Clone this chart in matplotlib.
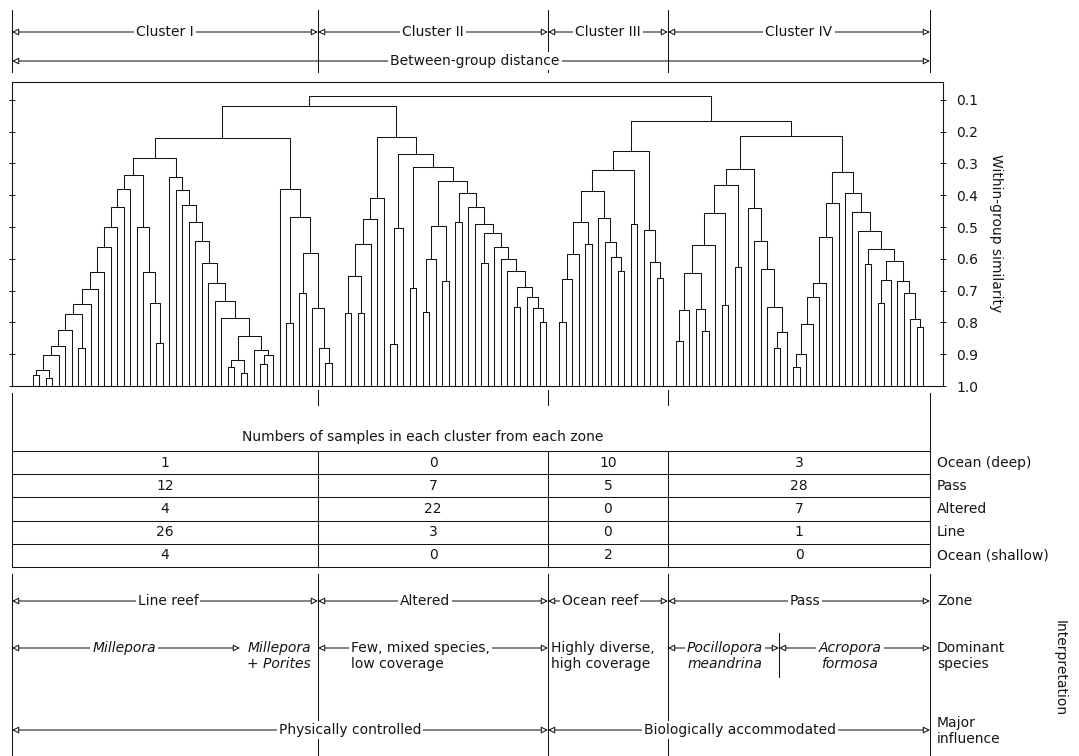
import numpy as np
import matplotlib.pyplot as plt

plt.rcParams['font.family'] = 'DejaVu Sans'

# ---- dendrogram ----
# node = (within-group similarity where the two branches join, left, right)
# 0 = a single sample
# Cluster I (47 samples)
n = (0.903, (0.95, (0.965, 0, 0), (0.975, 0, 0)), 0)
for h in [0.873, 0.824]:
    n = (h, n, 0)
n = (0.774, n, (0.879, 0, 0))
for h in [0.743, 0.696, 0.64, 0.563, 0.50, 0.437, 0.38]:
    n = (h, n, 0)
c1_a = n
c1_b = (0.50, 0, (0.642, 0, (0.74, 0, (0.866, 0, 0))))
n = (0.843, (0.919, (0.94, 0, 0), (0.96, 0, 0)), (0.887, 0, (0.903, (0.93, 0, 0), 0)))
for h in [0.787, 0.733, 0.675, 0.614, 0.545, 0.484, 0.432, 0.384, 0.343]:
    n = (h, 0, n)
c1_c = n
c1_d = (0.38, 0, (0.468, (0.803, 0, 0), (0.582, (0.706, 0, 0), (0.756, 0, (0.882, 0, (0.929, 0, 0))))))
cluster_I = (0.219, (0.284, (0.337, c1_a, c1_b), c1_c), c1_d)

# Cluster II (32 samples)
n = (0.72, 0, (0.756, 0, (0.798, 0, 0)))
n = (0.688, (0.751, 0, 0), n)
for h in [0.638, 0.602, 0.564]:
    n = (h, 0, n)
n = (0.518, (0.612, 0, 0), n)
for h in [0.489, 0.438]:
    n = (h, 0, n)
c2_d32 = (0.394, (0.485, 0, 0), n)
c2_d31 = (0.497, (0.60, (0.767, 0, 0), 0), (0.669, 0, 0))
c2_a = (0.408, (0.476, (0.555, (0.655, (0.772, 0, 0), (0.772, 0, 0)), 0), 0), 0)
c2_b = (0.27, (0.504, (0.867, 0, 0), 0), (0.312, (0.693, 0, 0), (0.355, c2_d31, c2_d32)))
cluster_II = (0.216, c2_a, c2_b)

# Cluster III (17 samples)
c3_a = (0.484, (0.586, (0.665, (0.80, 0, 0), 0), 0), (0.552, 0, 0))
c3_b = (0.473, 0, (0.546, 0, (0.594, 0, (0.638, 0, 0))))
c3_c = (0.508, 0, (0.61, 0, (0.66, 0, 0)))
cluster_III = (0.26, (0.32, (0.386, c3_a, c3_b), (0.49, 0, 0)), c3_c)

# Cluster IV (39 samples)
c4_a = (0.557, (0.644, (0.76, (0.86, 0, 0), 0), (0.757, 0, (0.827, 0, 0))), 0)
c4_a = (0.368, (0.455, c4_a, (0.744, 0, 0)), (0.625, 0, 0))
c4_b = (0.441, 0, (0.544, 0, (0.633, 0, (0.753, 0, (0.83, (0.88, 0, 0), 0)))))
c4_c = (0.426, (0.533, (0.675, (0.719, (0.806, (0.90, (0.94, 0, 0), 0), 0), 0), 0), 0), 0)
n = (0.671, 0, (0.709, 0, (0.788, 0, (0.815, 0, 0))))
n = (0.608, (0.667, (0.74, 0, 0), 0), n)
n = (0.568, (0.617, 0, 0), n)
c4_d = (0.393, 0, (0.454, 0, (0.512, 0, n)))
cluster_IV = (0.213, (0.317, c4_a, c4_b), (0.326, c4_c, c4_d))

merge_I_II = 0.119
merge_III_IV = 0.166
merge_root = 0.088

sim_ticks = [0.1, 0.2, 0.3, 0.4, 0.5, 0.6, 0.7, 0.8, 0.9, 1.0]

# ---- table ----
cluster_names = ['Cluster I', 'Cluster II', 'Cluster III', 'Cluster IV']
zones = ['Ocean (deep)', 'Pass', 'Altered', 'Line', 'Ocean (shallow)']
samples_I = [1, 12, 4, 26, 4]
samples_II = [0, 7, 22, 3, 0]
samples_III = [10, 5, 0, 0, 2]
samples_IV = [3, 28, 7, 1, 0]

zone_names = ['Line reef', 'Altered', 'Ocean reef', 'Pass']

LC = '#151515'
LW = 0.75

fig = plt.figure(figsize=(10.79, 7.56), dpi=100)
ov = fig.add_axes([0, 0, 1, 1])
ov.set_xlim(0, 1079)
ov.set_ylim(756, 0)
ov.axis('off')

ax = fig.add_axes([12/1079, 1 - 386/756, 931/1079, 304/756])

pos = [0.0]
def draw(node):
    if not isinstance(node, tuple):
        x = pos[0]
        pos[0] += 1
        return x, 1.0
    h, a, b = node
    xa, ha = draw(a)
    xb, hb = draw(b)
    ax.plot([xa, xa, xb, xb], [ha, h, h, hb], color=LC, lw=LW)
    return (xa + xb) / 2, h

def join(a, b, h):
    ax.plot([a[0], a[0], b[0], b[0]], [a[1], h, h, b[1]], color=LC, lw=LW)
    return (a[0] + b[0]) / 2, h

tops = []
for i, c in enumerate([cluster_I, cluster_II, cluster_III, cluster_IV]):
    if i > 0:
        pos[0] += 1.0   # little space between clusters
    tops.append(draw(c))
left = join(tops[0], tops[1], merge_I_II)
right = join(tops[2], tops[3], merge_III_IV)
join(left, right, merge_root)

last = pos[0] - 1
s = 890 / last
ax.set_xlim(-21 / s, last + 20 / s)
ax.set_ylim(1.0, 0.044)
ax.set_xticks([])
ax.set_yticks(sim_ticks)
ax.set_yticklabels(['%.1f' % t for t in sim_ticks])
ax.tick_params(axis='y', left=True, right=True, labelleft=False, labelright=True,
               direction='inout', length=5, width=0.7, labelsize=10, pad=7, colors=LC)
for sp in ax.spines.values():
    sp.set_linewidth(0.8)
    sp.set_color(LC)
ax.spines['bottom'].set_linestyle((0, (1, 1)))

# ---- annotation helpers (figure pixels) ----
def vline(x, y0, y1):
    ov.plot([x, x], [y0, y1], color=LC, lw=LW)

def span(x0, x1, y, style='<|-|>'):
    ov.annotate('', xy=(x1, y), xytext=(x0, y),
                arrowprops=dict(arrowstyle=style, ec=LC, fc='white', lw=LW,
                                mutation_scale=10, shrinkA=0, shrinkB=0))

def label(x, y, txt, **kw):
    kw.setdefault('ha', 'center')
    ov.text(x, y, txt, va='center', fontsize=10, color=LC, zorder=5,
            bbox=dict(fc='white', ec='none', pad=1.5), **kw)

bounds = [12, 318, 548, 668, 930]
mids = [(bounds[i] + bounds[i + 1]) / 2 for i in range(4)]

# top: clusters and between-group distance
for x in bounds:
    vline(x, 10, 72)
for i, name in enumerate(cluster_names):
    span(bounds[i], bounds[i + 1], 32)
    label(mids[i], 32, name)
span(12, 930, 61)
label(475, 61, 'Between-group distance')

ov.text(996, 233, 'Within-group similarity', rotation=-90, ha='center', va='center',
        fontsize=10, color=LC)

# table of samples
for x in [318, 548, 668]:
    vline(x, 390, 405)
vline(12, 393, 567)
vline(930, 393, 567)
ov.text(423, 437, 'Numbers of samples in each cluster from each zone',
        ha='center', va='center', fontsize=10, color=LC)
rows = np.linspace(451, 567, len(zones) + 1)
for y in rows:
    ov.plot([12, 930], [y, y], color=LC, lw=LW)
for x in [318, 548, 668]:
    vline(x, rows[0], rows[-1])
for j, col in enumerate([samples_I, samples_II, samples_III, samples_IV]):
    for k, v in enumerate(col):
        ov.text(mids[j], (rows[k] + rows[k + 1]) / 2, str(v), ha='center', va='center',
                fontsize=10, color=LC)
for k, z in enumerate(zones):
    ov.text(937, (rows[k] + rows[k + 1]) / 2, z, ha='left', va='center', fontsize=10, color=LC)

# interpretation
for x in bounds:
    vline(x, 574, 756)
for i, z in enumerate(zone_names):
    span(bounds[i], bounds[i + 1], 601)
    label(mids[i] + [3, -8, -8, 6][i], 601, z)
ov.text(937, 601, 'Zone', ha='left', va='center', fontsize=10, color=LC)

ys = 648
span(12, 240, ys)
label(124, ys, 'Millepora', style='italic')
ov.text(311, 656, 'Millepora\n+ Porites', ha='right', va='center', multialignment='right',
        fontsize=10, style='italic', color=LC)
span(318, 548, ys)
label(351, 656, 'Few, mixed species,\nlow coverage', ha='left', multialignment='left')
ov.text(551, 656, 'Highly diverse,\nhigh coverage', ha='left', va='center', fontsize=10, color=LC)
vline(779, 633, 677)
span(668, 779, ys)
label(725, 656, 'Pocillopora\nmeandrina', style='italic')
span(779, 930, ys)
label(850, 656, 'Acropora\nformosa', style='italic')
ov.text(937, 656, 'Dominant\nspecies', ha='left', va='center', fontsize=10, color=LC)

span(12, 548, 730)
label(350, 730, 'Physically controlled')
span(548, 930, 730)
label(740, 730, 'Biologically accommodated')
ov.text(937, 731, 'Major\ninfluence', ha='left', va='center', fontsize=10, color=LC)

ov.text(1060, 668, 'Interpretation', rotation=-90, ha='center', va='center',
        fontsize=10, color=LC)

fig.savefig('out.png', dpi=100)
